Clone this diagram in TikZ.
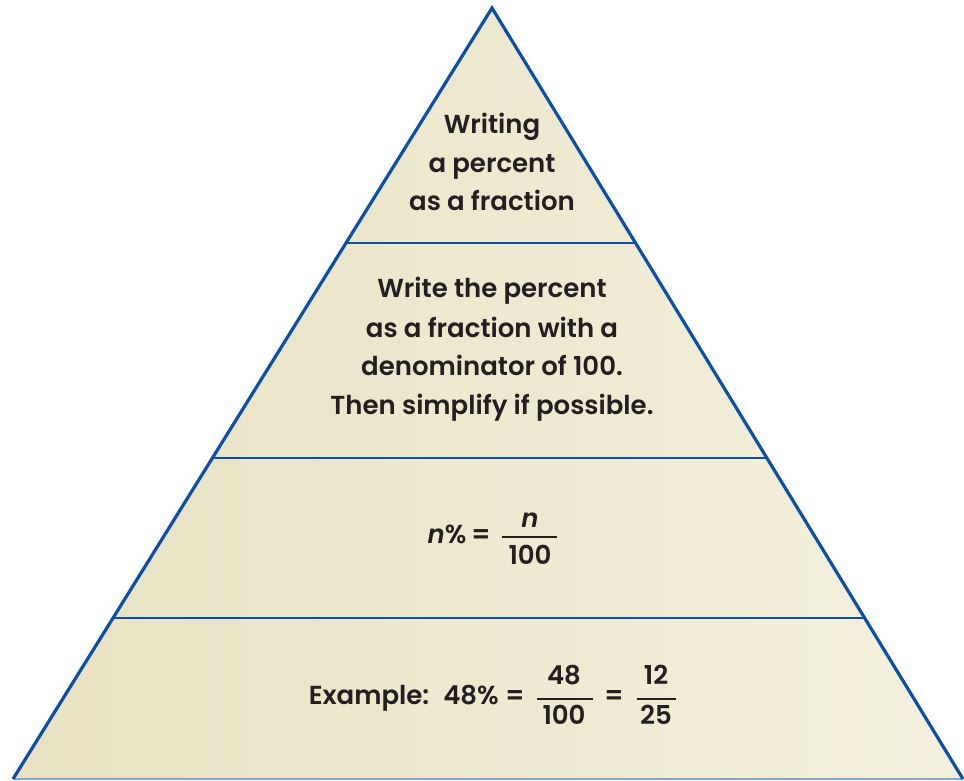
\documentclass[tikz,border=0pt]{standalone}
\usepackage{fontspec}
\usetikzlibrary{calc}
\setmainfont{Poppins}[BoldFont=* SemiBold, ItalicFont=* Italic, BoldItalicFont=* SemiBold Italic]
\definecolor{pyrblue}{HTML}{0B4FA8}
\definecolor{pyrfillL}{HTML}{E8E2C2}
\definecolor{pyrfillR}{HTML}{F3F0DD}
\definecolor{baseln}{HTML}{88A6C2}
\definecolor{inkc}{HTML}{231F20}
\tikzset{
  side/.style={draw=pyrblue, line width=3.2pt, line join=miter},
  band/.style={draw=pyrblue, line width=2pt},
  txt/.style={font=\fontsize{26}{31}\selectfont\bfseries, text=inkc, anchor=base, inner sep=0pt},
  frtxt/.style={font=\fontsize{26}{30}\selectfont\bfseries, text=inkc, anchor=base, inner sep=0pt},
  frbar/.style={draw=inkc, line width=2.4pt}
}
\begin{document}
\begin{tikzpicture}[x=1pt,y=-1pt]
\useasboundingbox (0,0) rectangle (964,780);
\coordinate (A) at (492,8);
\coordinate (L) at (13,779);
\coordinate (R) at (963,779);
\shade[left color=pyrfillL, right color=pyrfillR] (A) -- (L) -- (R) -- cycle;
\draw[baseln, line width=1.5pt] (L) -- (R);
\draw[side] (L) -- (A) -- (R);
% band lines
\foreach \t [count=\i] in {0.3048,0.5837,0.7912}{
  \coordinate (bl\i) at ($(A)!\t!(L)$);
  \coordinate (br\i) at ($(A)!\t!(R)$);
  \draw[band] (bl\i) -- (br\i);
}
% top block
\node[txt] (t1) at (492,133) {Writing};
\node[txt] (t2) at (492,172) {a percent};
\node[txt] (t3) at (492,210) {as a fraction};
% second block
\node[txt] (s1) at (492,297) {Write the percent};
\node[txt] (s2) at (492,337) {as a fraction with a};
\node[txt] (s3) at (492,375) {denominator of 100.};
\node[txt] (s4) at (492,414) {Then simplify if possible.};
% formula row
\node[txt] (np) at (447,543) {\textit{n}\%};
\node[txt] (eq1) at (481,543) {=};
\coordinate (fb1l) at (502,537);
\coordinate (fb1r) at (557,537);
\draw[frbar] (fb1l) -- (fb1r);
\node[frtxt] (fn1) at (530,527) {\textit{n}};
\node[frtxt] (fd1) at (530,564) {100};
% example row
\node[txt] (ex) at (369,704) {Example:};
\node[txt] (p48) at (471,704) {48\%};
\node[txt] (eq2) at (515,704) {=};
\coordinate (fb2l) at (537,699);
\coordinate (fb2r) at (593,699);
\draw[frbar] (fb2l) -- (fb2r);
\node[frtxt] (fn2) at (564,684) {48};
\node[frtxt] (fd2) at (564,724) {100};
\node[txt] (eq3) at (614,704) {=};
\coordinate (fb3l) at (637,699);
\coordinate (fb3r) at (676,699);
\draw[frbar] (fb3l) -- (fb3r);
\node[frtxt] (fn3) at (656,684) {12};
\node[frtxt] (fd3) at (656,724) {25};
\end{tikzpicture}
\end{document}
